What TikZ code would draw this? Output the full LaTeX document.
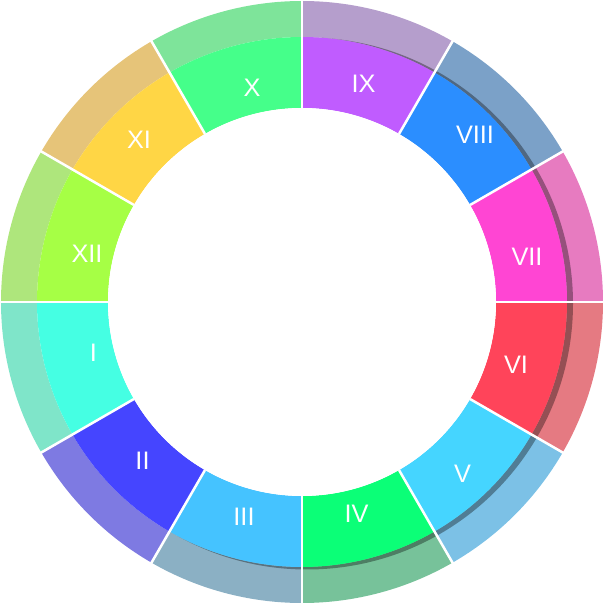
\documentclass[tikz,border=0pt]{standalone}
\usepackage{fontspec}
\setmainfont{Liberation Sans}
\definecolor{inI}{HTML}{45FFE3}
\definecolor{inII}{HTML}{4545FF}
\definecolor{inIII}{HTML}{45C3FF}
\definecolor{inIV}{HTML}{0BFF77}
\definecolor{inV}{HTML}{45D5FF}
\definecolor{inVI}{HTML}{FF445A}
\definecolor{inVII}{HTML}{FF45D3}
\definecolor{inVIII}{HTML}{2B8EFF}
\definecolor{inIX}{HTML}{C05CFF}
\definecolor{inX}{HTML}{45FF8A}
\definecolor{inXI}{HTML}{FFD645}
\definecolor{inXII}{HTML}{A6FF45}
\definecolor{outI}{HTML}{7FE5C9}
\definecolor{outII}{HTML}{7E7AE2}
\definecolor{outIII}{HTML}{8BB0C4}
\definecolor{outIV}{HTML}{77C29A}
\definecolor{outV}{HTML}{7CC1E6}
\definecolor{outVI}{HTML}{E57A82}
\definecolor{outVII}{HTML}{E77BC0}
\definecolor{outVIII}{HTML}{7BA1C8}
\definecolor{outIX}{HTML}{B59ECC}
\definecolor{outX}{HTML}{7EE49A}
\definecolor{outXI}{HTML}{E6C479}
\definecolor{outXII}{HTML}{AEE67C}
\tikzset{seclabel/.style={text=white,inner sep=0pt,font=\fontsize{7.2}{8}\selectfont}}
\begin{document}
\begin{tikzpicture}[x=0.01cm,y=0.01cm]
\useasboundingbox (0,0) rectangle (603,603);
\begin{scope}[shift={(302,301)}]
\foreach \n/\r in {1/I,2/II,3/III,4/IV,5/V,6/VI,7/VII,8/VIII,9/IX,10/X,11/XI,12/XII}
  \fill[fill=out\r] ({30*\n-210}:265) arc[start angle={30*\n-210},end angle={30*\n-180},radius=265]
    -- ({30*\n-180}:301) arc[start angle={30*\n-180},end angle={30*\n-210},radius=301] -- cycle;
\fill[black,opacity=0.35,even odd rule,shift={(5,-1.5)}] (0,0) circle[radius=266] (0,0) circle[radius=200];
\foreach \n/\r in {1/I,2/II,3/III,4/IV,5/V,6/VI,7/VII,8/VIII,9/IX,10/X,11/XI,12/XII}
  \fill[fill=in\r] ({30*\n-210}:194) arc[start angle={30*\n-210},end angle={30*\n-180},radius=194]
    -- ({30*\n-180}:265) arc[start angle={30*\n-180},end angle={30*\n-210},radius=265] -- cycle;
\fill[white] (0,0) circle[radius=194];
\foreach \a in {0,30,...,330}
  \draw[white,line width=0.025cm] (\a:194) -- (\a:302);
\end{scope}
\foreach \r/\x/\y in {I/93.5/250.5,II/142.5/142,III/244/86,IV/356.5/89,V/462.5/129,VI/516/238,
    VII/527/346.5,VIII/475/468,IX/363.5/519,X/252/515.5,XI/139/463,XII/87/349}
  \node[seclabel] (lab\r) at (\x,\y) {\r};
\end{tikzpicture}
\end{document}
